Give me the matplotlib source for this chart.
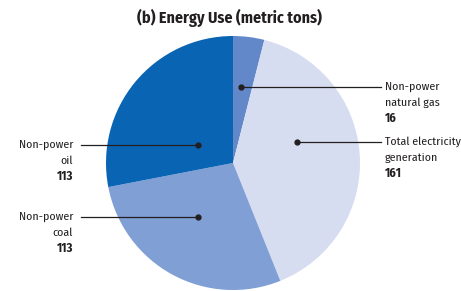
import matplotlib
matplotlib.use("Agg")
import matplotlib.pyplot as plt

labels = ["Non-power\nnatural gas", "Total electricity\ngeneration", "Non-power\ncoal", "Non-power\noil"]
values = [16, 161, 113, 113]
colors = ["#6288c9", "#d7ddf1", "#7f9fd5", "#0a64b4"]

W, H = 461, 291
fig = plt.figure(figsize=(W/100, H/100), dpi=100)
fam = ["Fira Sans Condensed", "DejaVu Sans"]

cx, cy, r = 233, 163, 127
ax = fig.add_axes([(cx-r)/W, (H-cy-r)/H, 2*r/W, 2*r/H])
ax.pie(values, colors=colors, startangle=90, counterclock=False, radius=1,
       wedgeprops=dict(linewidth=0))
ax.set_xlim(-1, 1); ax.set_ylim(-1, 1)
ax.set_aspect("auto")
ax.axis("off")

fig.text(229/W, 1-18/H, "(b) Energy Use (metric tons)", ha="center", va="center",
         fontsize=11.5, fontweight="bold", family=fam, color="#231f20")

def fy(y):
    return 1 - y/H

# annotations: (label index, dot x, dot y, line end x, text x, align)
ann = [(0, 241, 87, 381, 385, "left"),
       (1, 297, 142, 381, 385, "left"),
       (3, 198, 145, 81, 73, "right"),
       (2, 198, 217, 81, 73, "right")]
for i, dx, dy, lx, tx, al in ann:
    fig.add_artist(plt.Line2D([dx/W, lx/W], [fy(dy), fy(dy)], color="#231f20", lw=0.9))
    fig.add_artist(plt.Line2D([dx/W], [fy(dy)], marker="o", ms=3.5, color="#231f20"))
    l1, l2 = labels[i].split("\n")
    fig.text(tx/W, fy(dy), l1, ha=al, va="center", fontsize=8.5, family=fam, color="#231f20")
    fig.text(tx/W, fy(dy+16), l2, ha=al, va="center", fontsize=8.5, family=fam, color="#231f20")
    fig.text(tx/W, fy(dy+31), str(values[i]), ha=al, va="center", fontsize=9,
             fontweight="bold", family=fam, color="#231f20")

fig.savefig("out.png", dpi=100)
